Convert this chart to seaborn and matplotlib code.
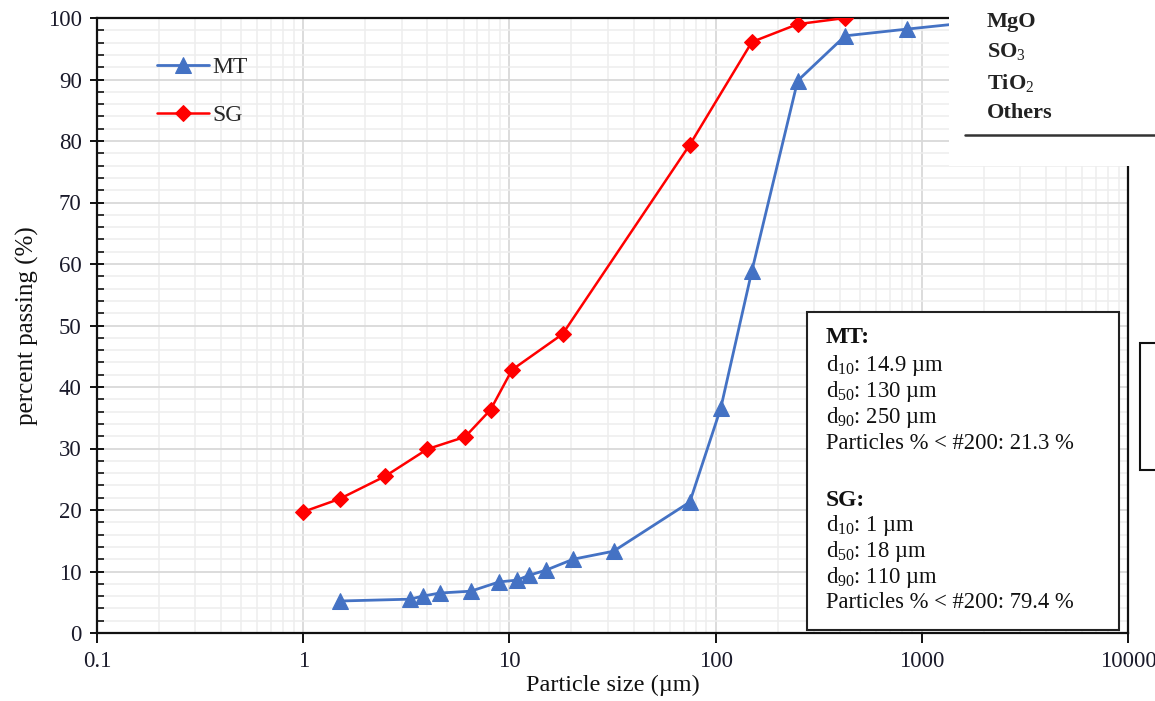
import matplotlib
matplotlib.use("Agg")
import matplotlib.pyplot as plt
import seaborn as sns
from matplotlib.patches import Rectangle
from matplotlib.lines import Line2D
from matplotlib.ticker import LogLocator, MultipleLocator, FuncFormatter, NullFormatter

# Particle size distribution data (size in µm, percent passing)
mt_size = [1.5, 3.3, 3.8, 4.6, 6.5, 8.9, 10.9, 12.5, 15.0, 20.4, 32.0,
           75, 106, 150, 250, 425, 850, 2000]
mt_pass = [5.2, 5.5, 6.0, 6.5, 6.8, 8.3, 8.6, 9.4, 10.2, 12.0, 13.3,
           21.3, 36.6, 58.9, 89.8, 97.1, 98.2, 99.5]

sg_size = [1.0, 1.5, 2.5, 4.0, 6.1, 8.1, 10.3, 18.1, 75, 150, 250, 425]
sg_pass = [19.7, 21.8, 25.5, 29.9, 31.9, 36.3, 42.8, 48.6, 79.4, 96.1, 99.0, 100.0]

x_ticks = [0.1, 1, 10, 100, 1000, 10000]

stats_lines = [
    ("MT:", True, 338),
    ("d$_{10}$: 14.9 µm", False, 365),
    ("d$_{50}$: 130 µm", False, 391),
    ("d$_{90}$: 250 µm", False, 417),
    ("Particles % < #200: 21.3 %", False, 443),
    ("SG:", True, 500),
    ("d$_{10}$: 1 µm", False, 525),
    ("d$_{50}$: 18 µm", False, 551),
    ("d$_{90}$: 110 µm", False, 577),
    ("Particles % < #200: 79.4 %", False, 603),
]
table_rows = [("MgO", 22), ("SO$_3$", 52), ("TiO$_2$", 83), ("Others", 113)]

sns.set_theme(style="white")
plt.rcParams["font.family"] = ["Liberation Serif", "DejaVu Serif"]
plt.rcParams["mathtext.fontset"] = "custom"
plt.rcParams["mathtext.rm"] = "Liberation Serif"
plt.rcParams["mathtext.it"] = "Liberation Serif:italic"
plt.rcParams["mathtext.bf"] = "Liberation Serif:bold"

W, H = 1155, 701
fig = plt.figure(figsize=(W / 100, H / 100), dpi=100)
fig.patch.set_facecolor("white")
ax = fig.add_axes([97 / W, 1 - 633 / H, (1128 - 97) / W, (633 - 18) / H])

sns.lineplot(x=mt_size, y=mt_pass, ax=ax, color="#4472C4", marker="^",
             markersize=11, markeredgecolor="#4472C4", linewidth=2,
             label="MT", zorder=3)
sns.lineplot(x=sg_size, y=sg_pass, ax=ax, color="#FF0000", marker="D",
             markersize=8, markeredgecolor="#FF0000", linewidth=1.8,
             label="SG", zorder=4)

ax.set_xscale("log")
ax.set_xlim(0.1, 10000)
ax.set_ylim(0, 100)
ax.xaxis.set_major_locator(LogLocator(base=10))
ax.xaxis.set_minor_locator(LogLocator(base=10, subs=range(2, 10)))
ax.xaxis.set_major_formatter(FuncFormatter(lambda v, _: f"{v:g}"))
ax.xaxis.set_minor_formatter(NullFormatter())
ax.set_xticks(x_ticks)
ax.yaxis.set_major_locator(MultipleLocator(10))
ax.yaxis.set_minor_locator(MultipleLocator(2))

ax.set_axisbelow(True)
ax.grid(which="major", color="#d9d9d9", linewidth=1.3)
ax.grid(which="minor", color="#eeeeee", linewidth=1.1)

for s in ax.spines.values():
    s.set_color("#111111")
    s.set_linewidth(1.6)

ax.tick_params(axis="y", which="major", direction="inout", length=10, width=1.4,
               color="#111111", labelsize=16.5, labelcolor="#1a1a2a", pad=6,
               left=True)
ax.tick_params(axis="y", which="minor", direction="in", length=5, width=1.2,
               color="#111111", left=True)
ax.tick_params(axis="x", which="major", direction="out", length=7, width=1.4,
               color="#111111", labelsize=16.5, labelcolor="#1a1a2a", pad=6,
               bottom=True)
ax.tick_params(axis="x", which="minor", length=0)

ax.set_xlabel("Particle size (µm)", fontsize=17.5, color="#111111", labelpad=2)
ax.set_ylabel("percent passing (%)", fontsize=18, color="#111111", labelpad=6)

ax.legend(loc="upper left", bbox_to_anchor=(0.058, 0.937), frameon=False,
          fontsize=17, handlelength=2.2, handletextpad=0.15, labelspacing=1.13,
          borderaxespad=0, borderpad=0)

# Page elements surrounding the chart
fig.add_artist(Rectangle((949 / W, 1 - 166 / H), (W - 949) / W, 166 / H,
                         transform=fig.transFigure, facecolor="white",
                         edgecolor="none", zorder=20))
for label, y in table_rows:
    fig.text(987 / W, 1 - y / H, label, va="center", ha="left", fontsize=16,
             fontweight="bold", color="#222222", zorder=22)
fig.add_artist(Line2D([965 / W, 1.0], [1 - 135 / H] * 2, transform=fig.transFigure,
                      color="#333333", linewidth=1.8, zorder=21))
fig.add_artist(Rectangle((1140 / W, 1 - 470 / H), 40 / W, 127 / H,
                         transform=fig.transFigure, facecolor="white",
                         edgecolor="#111111", linewidth=1.5, zorder=21))

# Summary box
fig.add_artist(Rectangle((807 / W, 1 - 630 / H), 312 / W, 318 / H,
                         transform=fig.transFigure, facecolor="white",
                         edgecolor="#222222", linewidth=1.5, zorder=21))
for text, bold, y in stats_lines:
    fig.text(826 / W, 1 - y / H, text, va="center", ha="left",
             fontsize=17 if bold else 16.3,
             fontweight="bold" if bold else "normal", color="#111111", zorder=22)

fig.savefig("out.png", dpi=100, facecolor="white")
